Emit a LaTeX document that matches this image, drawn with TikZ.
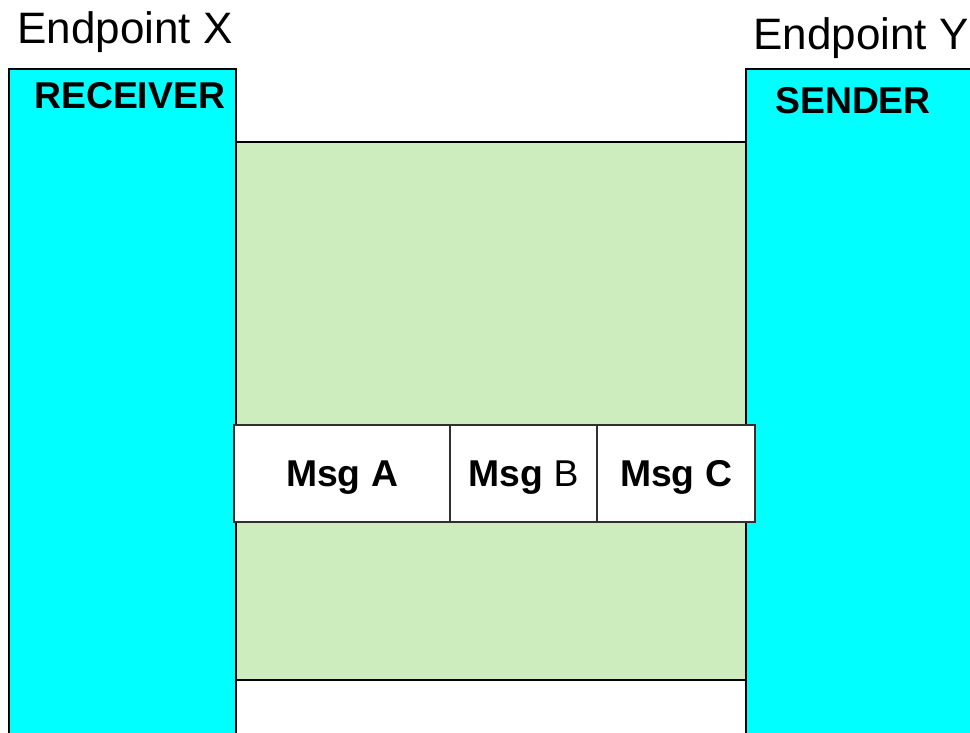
\documentclass[tikz,border=0pt]{standalone}
\usepackage{fontspec}
\setmainfont{Liberation Sans}
\definecolor{endcyan}{HTML}{00FFFF}
\definecolor{pipegreen}{HTML}{CDEDBF}
\definecolor{msgedge}{HTML}{303030}
\begin{document}
\begin{tikzpicture}[x=0.75pt,y=-0.75pt,
  endbox/.style={draw=black,line width=1.5pt,fill=endcyan,inner sep=0pt,outer sep=0pt,
    minimum height=520pt,anchor=north west},
  pipe/.style={draw=black,line width=1.5pt,fill=pipegreen,inner sep=0pt,outer sep=0pt,
    anchor=north west},
  msgbox/.style={draw=msgedge,line width=0.8pt,fill=white,inner sep=0pt,outer sep=0pt,
    minimum height=72.75pt,anchor=north west,
    font=\fontsize{28}{30}\selectfont,text height=20pt,text depth=0pt},
  title/.style={anchor=base west,inner sep=0pt,font=\fontsize{33}{36}\selectfont},
  role/.style={anchor=base west,inner sep=0pt,font=\fontsize{28}{30}\selectfont\bfseries}]
\useasboundingbox (0,0) rectangle (970,732);
\clip (0,0) rectangle (970,732);
% the two endpoints
\node[endbox,minimum width=170.25pt] (recv) at (9,69) {};
\node[endbox,minimum width=190pt] (send) at (746,69) {};
% channel between them
\node[pipe,minimum width=382.5pt,minimum height=403.5pt] (chan) at (236,142) {};
% messages in transit
\node[msgbox,minimum width=162pt] (msgA) at (234,425) {\bfseries Msg A};
\node[msgbox,minimum width=110.25pt] (msgB) at (msgA.north east) {{\bfseries Msg} B};
\node[msgbox,minimum width=118.5pt] (msgC) at (msgB.north east) {\bfseries Msg C};
% labels
\node[title] (tx) at (17,43) {Endpoint X};
\node[title] (ty) at (753,49) {Endpoint Y};
\node[role] (rx) at (34,108) {RECEIVER};
\node[role] (ry) at (775,113) {SENDER};
\end{tikzpicture}
\end{document}
